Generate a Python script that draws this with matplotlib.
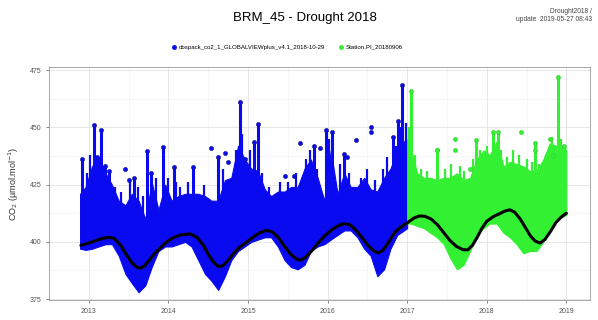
import numpy as np
import matplotlib
matplotlib.use('Agg')
from matplotlib import pyplot as plt
from matplotlib.lines import Line2D

plt.rcParams['font.family'] = ['Liberation Sans', 'DejaVu Sans']

# obspack record (blue): dense band, decimal year / lower edge / upper edge
blue_t = [2012.89, 2012.96, 2013.04, 2013.125, 2013.21, 2013.29, 2013.375, 2013.46,
          2013.54, 2013.625, 2013.71, 2013.79, 2013.875, 2013.96, 2014.04, 2014.125,
          2014.21, 2014.29, 2014.375, 2014.46, 2014.54, 2014.625, 2014.71, 2014.79,
          2014.875, 2014.96, 2015.04, 2015.125, 2015.21, 2015.29, 2015.375, 2015.46,
          2015.54, 2015.625, 2015.71, 2015.79, 2015.875, 2015.96, 2016.04, 2016.125,
          2016.21, 2016.29, 2016.375, 2016.46, 2016.54, 2016.625, 2016.71, 2016.79,
          2016.875, 2016.96, 2017.0]
blue_lo = [397, 396.5, 397, 398, 399, 399, 394, 386,
           382, 378, 381, 389, 396, 398, 398, 399,
           400, 398, 392, 386, 383, 379, 385, 392,
           396, 398, 400, 401, 402, 402, 398, 392,
           389, 388, 390, 396, 398, 399, 401, 403,
           405, 405, 402, 397, 394, 385, 388, 397,
           403, 405, 406]
blue_hi = [421, 424, 433, 437, 430, 425, 418, 416,
           421, 418, 410, 426, 414, 425, 418, 420,
           421, 421, 421, 420, 418, 418, 427, 428,
           442, 436, 432, 431, 423, 420, 422, 422,
           424, 424, 432, 436, 428, 418, 440, 421,
           430, 424, 424, 428, 423, 422, 428, 432,
           440, 444, 444]

# station record (green)
green_t = [2017.0, 2017.05, 2017.125, 2017.21, 2017.29, 2017.375, 2017.46, 2017.54,
           2017.625, 2017.71, 2017.79, 2017.875, 2017.96, 2018.04, 2018.125, 2018.21,
           2018.29, 2018.375, 2018.46, 2018.54, 2018.625, 2018.71, 2018.79, 2018.875,
           2018.96, 2019.0]
green_lo = [408, 408, 407, 406, 404, 402, 399, 393,
            388, 390, 396, 403, 406, 408, 408, 404,
            402, 399, 395, 396, 396, 400, 406, 410,
            411, 412]
green_hi = [445, 440, 430, 428, 428, 427, 428, 428,
            430, 427, 428, 436, 440, 438, 444, 433,
            435, 434, 433, 431, 431, 436, 443, 442,
            442, 440]

# short pollution spikes with a point on top
blue_spike_t = [2012.92, 2013.06, 2013.1, 2013.15, 2013.2, 2013.25, 2013.57, 2013.73,
                2013.78, 2013.93, 2014.07, 2014.31, 2014.62, 2014.9, 2014.96, 2015.07,
                2015.13, 2015.83, 2015.98, 2016.06, 2016.2, 2016.82, 2016.89, 2016.94]
blue_spike_v = [436, 451, 437, 449, 433, 431, 428, 439.5,
                430, 441.5, 432.8, 432.8, 437, 461, 436, 443.7,
                451.7, 442, 449, 448, 438.6, 446, 453, 468.5]
green_spike_t = [2017.05, 2017.38, 2017.86, 2018.08, 2018.14, 2018.61, 2018.89, 2018.97]
green_spike_v = [466, 440, 444.5, 448, 448, 443, 472, 442]

# narrower dense columns above the band
blue_col_t = [2012.98, 2013.02, 2013.33, 2013.4, 2013.52, 2013.62, 2013.68, 2013.84,
              2014.0, 2014.1, 2014.15, 2014.25, 2014.45, 2014.68, 2014.85, 2014.93,
              2015.02, 2015.18, 2015.27, 2015.4, 2015.5, 2015.6, 2015.73, 2015.78,
              2015.87, 2016.02, 2016.15, 2016.27, 2016.42, 2016.5, 2016.6, 2016.7,
              2016.75, 2016.86, 2016.92, 2016.98]
blue_col_v = [430, 438, 424, 422, 426, 424, 420, 428,
              428, 426, 424, 426, 425, 432, 440, 447,
              440, 430, 424, 426, 426, 430, 436, 440,
              432, 445, 434, 430, 428, 432, 427, 432,
              437, 442, 450, 452]
green_col_t = [2017.02, 2017.1, 2017.17, 2017.25, 2017.47, 2017.55, 2017.66, 2017.72,
               2017.83, 2017.92, 2018.0, 2018.18, 2018.25, 2018.33, 2018.4, 2018.5,
               2018.57, 2018.66, 2018.74, 2018.82, 2018.93]
green_col_v = [450, 438, 432, 431, 432, 434, 433, 431,
               436, 440, 442, 440, 437, 440, 438, 436,
               435, 434, 438, 446, 445]

# isolated points
blue_dot_t = [2013.45, 2013.5, 2014.54, 2014.71, 2014.75, 2015.46, 2015.58, 2015.65,
              2015.9, 2016.24, 2016.36, 2016.55, 2016.55]
blue_dot_v = [432, 427, 441, 439, 435, 429, 429, 443,
              441, 437, 444.4, 450.2, 448]
green_dot_t = [2017.38, 2017.6, 2017.6, 2017.79, 2018.43, 2018.6, 2018.8, 2018.83]
green_dot_v = [440, 445, 440, 432, 448, 440, 445, 438]

# smooth fitted curve
fit_t = [2012.9, 2013.0, 2013.08, 2013.17, 2013.25, 2013.32, 2013.4, 2013.47, 2013.54,
         2013.6, 2013.65, 2013.7, 2013.76, 2013.83, 2013.9, 2013.98, 2014.06, 2014.15,
         2014.27, 2014.36, 2014.44, 2014.51, 2014.57, 2014.63, 2014.68, 2014.74, 2014.82,
         2014.9, 2015.0, 2015.08, 2015.16, 2015.23, 2015.3, 2015.38, 2015.46, 2015.54,
         2015.61, 2015.66, 2015.72, 2015.8, 2015.88, 2015.96, 2016.05, 2016.13, 2016.2,
         2016.28, 2016.36, 2016.44, 2016.52, 2016.59, 2016.64, 2016.7, 2016.77, 2016.84,
         2016.92, 2017.0, 2017.08, 2017.15, 2017.22, 2017.3, 2017.38, 2017.46, 2017.54,
         2017.62, 2017.7, 2017.76, 2017.82, 2017.88, 2017.94, 2018.0, 2018.08, 2018.16,
         2018.23, 2018.29, 2018.35, 2018.42, 2018.49, 2018.55, 2018.61, 2018.67, 2018.73,
         2018.8, 2018.87, 2018.94, 2019.0]
fit_v = [398.5, 399.5, 400.5, 401.5, 402, 401.5, 398.5, 394.5, 391,
         389, 388.5, 389.5, 392, 395, 397.5, 400, 401.8, 403,
         403.5, 402, 398.5, 394, 391, 389.2, 389.5, 391.5, 395,
         397.8, 400.3, 402.5, 404.2, 405, 404.5, 402, 398, 394.5,
         392.5, 392, 393.2, 396, 399.5, 402.5, 405.2, 407, 408,
         407.5, 405, 401.5, 398, 395.8, 395.2, 396.5, 400, 404,
         406.5, 408.3, 410.3, 411.3, 411.2, 410, 407.5, 404, 400.5,
         398, 396.6, 396.5, 398.5, 402, 406, 409, 411, 412.3,
         413.5, 414, 413, 410, 406, 402.5, 400.3, 399.5, 401,
         404.5, 408.5, 411, 412.5]

years = [2013, 2014, 2015, 2016, 2017, 2018, 2019]

blue = '#0a0af0'
green = '#33f033'

fig = plt.figure(figsize=(5.98, 3.20), dpi=100)
ax = fig.add_axes([0.082, 0.0625, 0.905, 0.728])

series = [
    (blue_t, blue_lo, blue_hi, blue_spike_t, blue_spike_v, blue_col_t, blue_col_v,
     blue_dot_t, blue_dot_v, blue, '#15158a'),
    (green_t, green_lo, green_hi, green_spike_t, green_spike_v, green_col_t, green_col_v,
     green_dot_t, green_dot_v, green, '#3ccf3c'),
]
for t, lo, hi, spt, spv, ct, cv, dt, dv, c, ec in series:
    ax.fill_between(t, lo, hi, color=c, lw=0.8, edgecolor=c, zorder=2)
    # columns start a little inside the band so they never poke out underneath
    ax.vlines(ct, np.interp(ct, t, hi) - 4, cv, color=c, lw=1.6, zorder=2)
    ax.vlines(spt, np.interp(spt, t, hi) - 4, spv, color=c, lw=2.2, zorder=2)
    ax.scatter(spt, spv, s=9, color=c, edgecolor=ec, lw=0.4, zorder=3)
    ax.scatter(dt, dv, s=9, color=c, edgecolor=ec, lw=0.4, zorder=3)

ax.plot(fit_t, fit_v, color='black', lw=2.2, zorder=4,
        solid_capstyle='round', solid_joinstyle='round')

ax.set_xlim(2012.6, 2019.3)
ax.set_ylim(374.6, 476.4)
ax.set_xticks(years)
ax.set_xticks([y + 0.5 for y in years[:-1]] + [2012.5], minor=True)
ax.set_yticks([375, 400, 425, 450, 475])
ax.set_yticks([387.5, 412.5, 437.5, 462.5], minor=True)
ax.grid(True, which='major', color='#e3e3e3', lw=0.6, zorder=0)
ax.grid(True, which='minor', color='#f0f0f0', lw=0.4, zorder=0)
ax.set_axisbelow(True)
ax.tick_params(which='major', labelsize=5, colors='#555555', length=2, width=0.5)
ax.tick_params(which='minor', length=0)
for s in ax.spines.values():
    s.set_color('#999999')
    s.set_linewidth(0.6)
ax.set_ylabel('CO$_2$ (µmol.mol$^{-1}$)', fontsize=6.5, color='#333333', labelpad=6)

fig.text(0.51, 0.945, 'BRM_45 - Drought 2018', ha='center', va='center', fontsize=9.5)
fig.text(0.99, 0.975, 'Drought2018 /\nupdate  2019-05-27 08:43', ha='right', va='top',
         fontsize=4.8, color='#444444', linespacing=1.2)

handles = [Line2D([], [], ls='', marker='o', ms=2.5, color=blue),
           Line2D([], [], ls='', marker='o', ms=2.5, color=green)]
fig.legend(handles, ['obspack_co2_1_GLOBALVIEWplus_v4.1_2018-10-29', 'Station.PI_20180906'],
           loc='center', bbox_to_anchor=(0.48, 0.853), ncol=2, frameon=False,
           fontsize=4.4, handletextpad=0.3, columnspacing=2.0, handlelength=1)

fig.savefig('out.png', dpi=100)
